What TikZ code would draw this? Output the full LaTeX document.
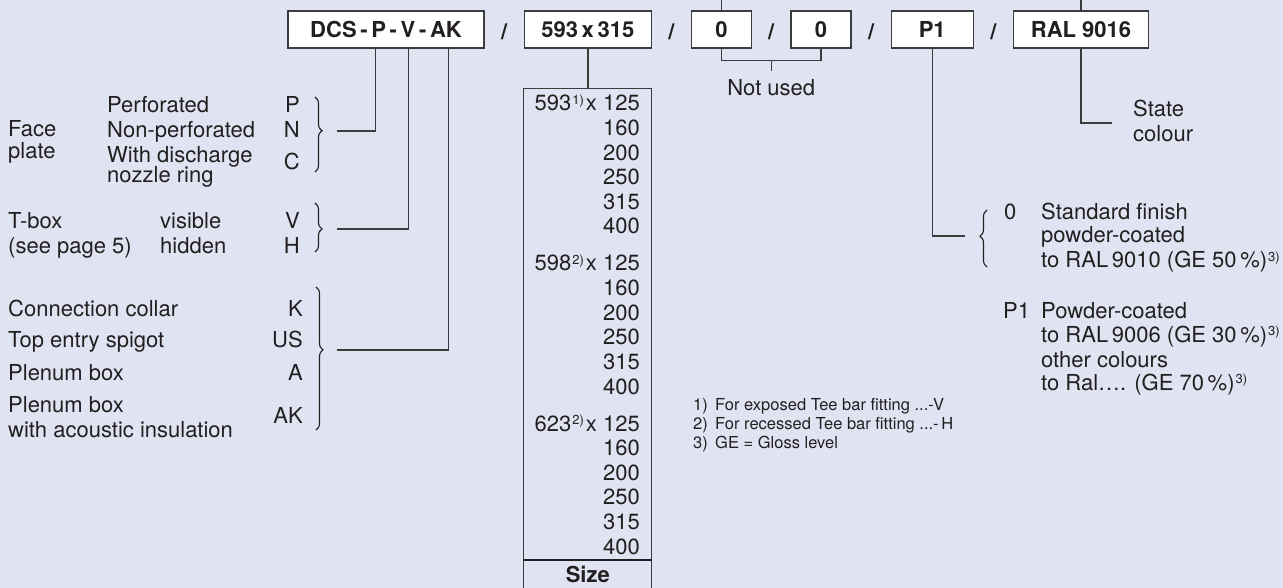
\documentclass[tikz,border=0pt]{standalone}
\usepackage{fontspec}
\setmainfont{TeX Gyre Heros}
\usetikzlibrary{positioning,calc,decorations.pathreplacing}
\definecolor{bgC}{RGB}{223,227,242}
\definecolor{inkC}{RGB}{35,31,32}
\definecolor{lineC}{RGB}{60,60,60}
\newcommand\ftn[1]{\kern1pt\raisebox{6.5pt}{\fontsize{13}{13}\selectfont #1}}
\tikzset{
	codebox/.style={draw=lineC, fill=white, line width=1.3pt, minimum height=37pt,
		inner sep=0pt, text=inkC, font=\bfseries\fontsize{22}{25}\selectfont},
	slash/.style={inner sep=0pt, text=inkC, font=\bfseries\fontsize{22}{25}\selectfont},
	conn/.style={draw=lineC, line width=1.4pt},
	txt/.style={inner sep=0pt, align=left, text=inkC, font=\fontsize{22}{25}\selectfont},
	rtxt/.style={txt, align=right},
	note/.style={inner sep=0pt, align=left, text=inkC, font=\fontsize{16.5}{19}\selectfont},
	curly/.style={decorate, decoration={brace, amplitude=7pt}, draw=inkC, line width=1.1pt},
}

\begin{document}
\begin{tikzpicture}[x=1pt, y=-1pt]
	\fill[bgC] (0,0) rectangle (1283,588);
	\useasboundingbox (0,0) rectangle (1283,588);
	
	% ================= Order code =================
	\node[codebox, minimum width=196pt] (dcs) at (386,29.5) {DCS\,-\,P\,-\,V\,-\,AK};
	\node[codebox, minimum width=127pt, right=39pt of dcs] (sz) {593\,x\,315};
	\node[codebox, minimum width=60pt, right=39pt of sz] (za) {0};
	\node[codebox, minimum width=60pt, right=38pt of za] (zb) {0};
	\node[codebox, minimum width=82pt, right=39pt of zb] (pone) {P1};
	\node[codebox, minimum width=135pt, right=39pt of pone] (ral) {RAL 9016};
	\foreach \a/\b in {dcs/sz, sz/za, za/zb, zb/pone, pone/ral}
	\node[slash, anchor=base] (sl-\a) at ($(\a.east)!0.5!(\b.west)+(0,10)$) {/};
	\draw[conn] (za.north) -- (za.north |- 0,0);
	\draw[conn] (ral.north) -- (ral.north |- 0,0);
	
	\coordinate (dcsP) at ($(dcs.south west)+(88,0)$);
	\coordinate (dcsV) at ($(dcs.south west)+(121,0)$);
	\coordinate (dcsAK) at ($(dcs.south west)+(161,0)$);
	
	% ================= Face plate =================
	% (multi-line nodes sit on the baseline of their last line)
	\node[txt, anchor=base west] (face) at (8,159) {Face\\[-3pt]plate};
	\node[txt, anchor=base west] (faceT) at (107,183)
	{Perforated\\Non-perforated\\With discharge\\[-5pt]nozzle ring};
	\node[rtxt, anchor=base east] (faceL) at (300,170) {P\\N\\[7pt]C};
	\draw[curly, decoration={aspect=0.45}] (315,97) -- (315,172);
	\coordinate (faceEnd) at (337,131);
	\draw[conn] (dcsP) |- (faceEnd);
	
	% ================= T-box =================
	\node[txt, anchor=base west] (tbox) at (8,254) {T-box\\(see page 5)};
	\node[txt, anchor=base west] (tboxT) at (160,254) {visible\\hidden};
	\node[rtxt, anchor=base east] (tboxL) at (300,254) {V\\H};
	\draw[curly, decoration={aspect=0.53}] (315,203) -- (315,252);
	\coordinate (tboxEnd) at (337,229);
	\draw[conn] (dcsV) |- (tboxEnd);
	
	% ================= Connection =================
	\node[txt, anchor=base west] (opt) at (8,437)
	{Connection collar\\[6pt]Top entry spigot\\[8pt]Plenum box\\[7pt]Plenum box\\with acoustic insulation};
	\node[rtxt, anchor=base east] (optL) at (303,423) {K\\[6pt]US\\[8pt]A\\[18pt]AK};
	\draw[curly, decoration={aspect=0.44}] (316,287) -- (316,430);
	\coordinate (optEnd) at (337,350);
	\draw[conn] (dcsAK) |- (optEnd);
	
	% ================= Size =================
	\node[draw=lineC, line width=1.3pt, minimum width=128pt, minimum height=520pt,
	inner sep=0pt, below=39pt of sz] (sizecol) {};
	\draw[conn] (sz.south) -- (sizecol.north);
	\foreach \w/\n [count=\g from 0] in {593/1, 598/2, 623/2}{
		\node[txt, anchor=base east] (row\g-0) at (640,{111+\g*160}) {\w\ftn{\n)}\hspace{2pt}x 125};
		\foreach \h [count=\i] in {160,200,250,315,400}
		\node[txt, anchor=base east] (row\g-\i) at (640,{111+\g*160+\i*24.6}) {\h};
	}
	\draw[draw=inkC, line width=2.2pt] (sizecol.west |- 0,560) -- (sizecol.east |- 0,560);
	\node[txt, font=\bfseries\fontsize{22}{25}\selectfont, anchor=base] (sizelbl)
	at (sizecol.center |- 0,582) {Size};
	
	% footnotes
	\node[note, anchor=base west] (fnN) at (693,448) {1)\\2)\\3)};
	\node[note, anchor=base west] (fnT) at (715,448)
	{For exposed Tee bar fitting ...-V\\For recessed Tee bar fitting ...-\,H\\GE = Gloss level};
	
	% ================= Not used =================
	\coordinate (nuMid) at ($(za.south)!0.5!(zb.south)+(0,12)$);
	\draw[conn] (za.south) -- ++(0,12) -| (zb.south);
	\draw[conn] (nuMid) -- ++(0,10) coordinate (nuTip);
	\node[txt, anchor=base] (notused) at ($(nuTip)+(0,25)$) {Not used};
	
	% ================= Finish =================
	\node[txt, anchor=base west] (finA) at (1004,220) {0};
	\node[txt, anchor=base west] (finAT) at (1041,268)
	{Standard finish\\[-2pt]powder-coated\\to RAL\,9010 (GE 50\,\%)\ftn{3)}};
	\node[txt, anchor=base west] (finP) at (1003,318) {P1};
	\node[txt, anchor=base west] (finPT) at (1041,390)
	{Powder-coated\\[-1pt]to RAL\,9006 (GE 30\,\%)\ftn{3)}\\other colours\\[-2pt]to Ral\ldots. (GE 70\,\%)\ftn{3)}};
	\draw[curly, decoration={aspect=0.54}] (987,267) -- (987,210);
	\coordinate (finEnd) at (965,236);
	\draw[conn] (pone.south) |- (finEnd);
	
	% ================= Colour =================
	\coordinate (colEnd) at (1112,123);
	\draw[conn] (ral.south) |- (colEnd);
	\node[txt, anchor=base west] (state) at (1133,142) {State\\colour};
	
\end{tikzpicture}
\end{document}
